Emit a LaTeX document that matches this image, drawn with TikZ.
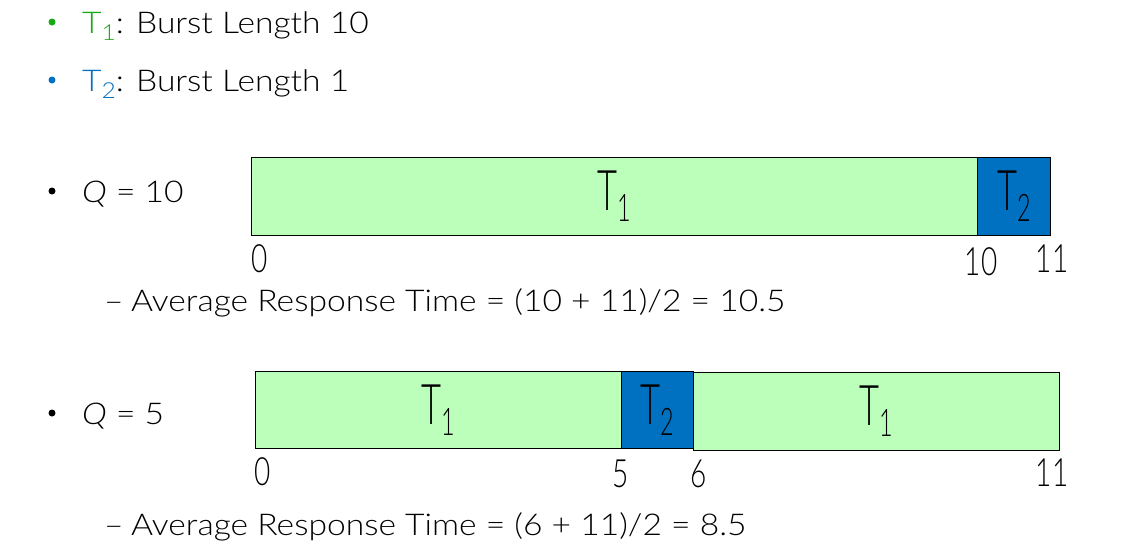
\documentclass[tikz,border=0pt]{standalone}
\usepackage{fontspec}
\setmainfont{Lato}[UprightFont=* Light, ItalicFont=* Light Italic, FakeStretch=1.12]
\definecolor{tgreen}{RGB}{20,170,20}
\definecolor{tblue}{RGB}{0,112,192}
\definecolor{boxgreen}{RGB}{187,255,187}
\newcommand{\txt}{\fontsize{30}{34}\selectfont}
\newcommand{\boxlab}[1]{\scalebox{0.55}[1]{\fontsize{56}{60}\selectfont T\raisebox{-11pt}{\fontsize{38}{40}\selectfont #1}}}
\newcommand{\numlab}[1]{\scalebox{0.64}[1]{\fontsize{39}{42}\selectfont #1}}
\tikzset{
  txtnode/.style={anchor=base west, inner sep=0pt, font=\txt},
  bulnode/.style={circle, inner sep=0pt, minimum size=7pt},
  gbox/.style={draw=black, line width=0.8pt, fill=boxgreen, anchor=north west, inner sep=0pt, minimum height=78pt},
  bbox/.style={draw=black, line width=0.8pt, fill=tblue, anchor=north west, inner sep=0pt, minimum height=78pt},
  numnode/.style={anchor=base, inner sep=0pt},
}
\begin{document}
\begin{tikzpicture}[x=1pt,y=-1pt]
\useasboundingbox (0,0) rectangle (1122,546);
% header lines
\node[bulnode, fill=tgreen] (b1) at (52,22) {};
\node[txtnode] (l1) at (82,33) {\textcolor{tgreen}{T\raisebox{-7pt}{\fontsize{22}{24}\selectfont 1}}: Burst Length 10};
\node[bulnode, fill=tblue] (b2) at (52,80) {};
\node[txtnode] (l2) at (82,91) {\textcolor{tblue}{T\raisebox{-7pt}{\fontsize{22}{24}\selectfont 2}}: Burst Length 1};
% Q = 10
\node[bulnode, fill=black] (b3) at (52,191) {};
\node[txtnode] (q1) at (82,202) {\textit{Q} = 10};
\node[gbox, minimum width=726pt] (a1) at (251,157) {\boxlab{1}};
\node[bbox, minimum width=73pt] (a2) at (977,157) {\boxlab{2}};
\node[numnode] (n0a) at (260,272) {\numlab{0}};
\node[numnode] (n10a) at (981,275) {\numlab{10}};
\node[numnode] (n11a) at (1052,272) {\numlab{11}};
\node[txtnode] (r1) at (104,311) {–\hspace{0.25em}Average Response Time = (10 + 11)/2 = 10.5};
% Q = 5
\node[bulnode, fill=black] (b4) at (52,413) {};
\node[txtnode] (q2) at (82,424) {\textit{Q} = 5};
\node[gbox, minimum width=366pt, minimum height=77pt] (c1) at (255,371) {\boxlab{1}};
\node[bbox, minimum width=72pt, minimum height=77pt] (c2) at (621,371) {\boxlab{2}};
\node[gbox, minimum width=366pt] (c3) at (693,372) {\boxlab{1}};
\node[numnode] (n0b) at (263,485) {\numlab{0}};
\node[numnode] (n5b) at (621,487) {\numlab{5}};
\node[numnode] (n6b) at (699,487) {\numlab{6}};
\node[numnode] (n11b) at (1052,486) {\numlab{11}};
\node[txtnode] (r2) at (104,535) {–\hspace{0.25em}Average Response Time = (6 + 11)/2 = 8.5};
\end{tikzpicture}
\end{document}
